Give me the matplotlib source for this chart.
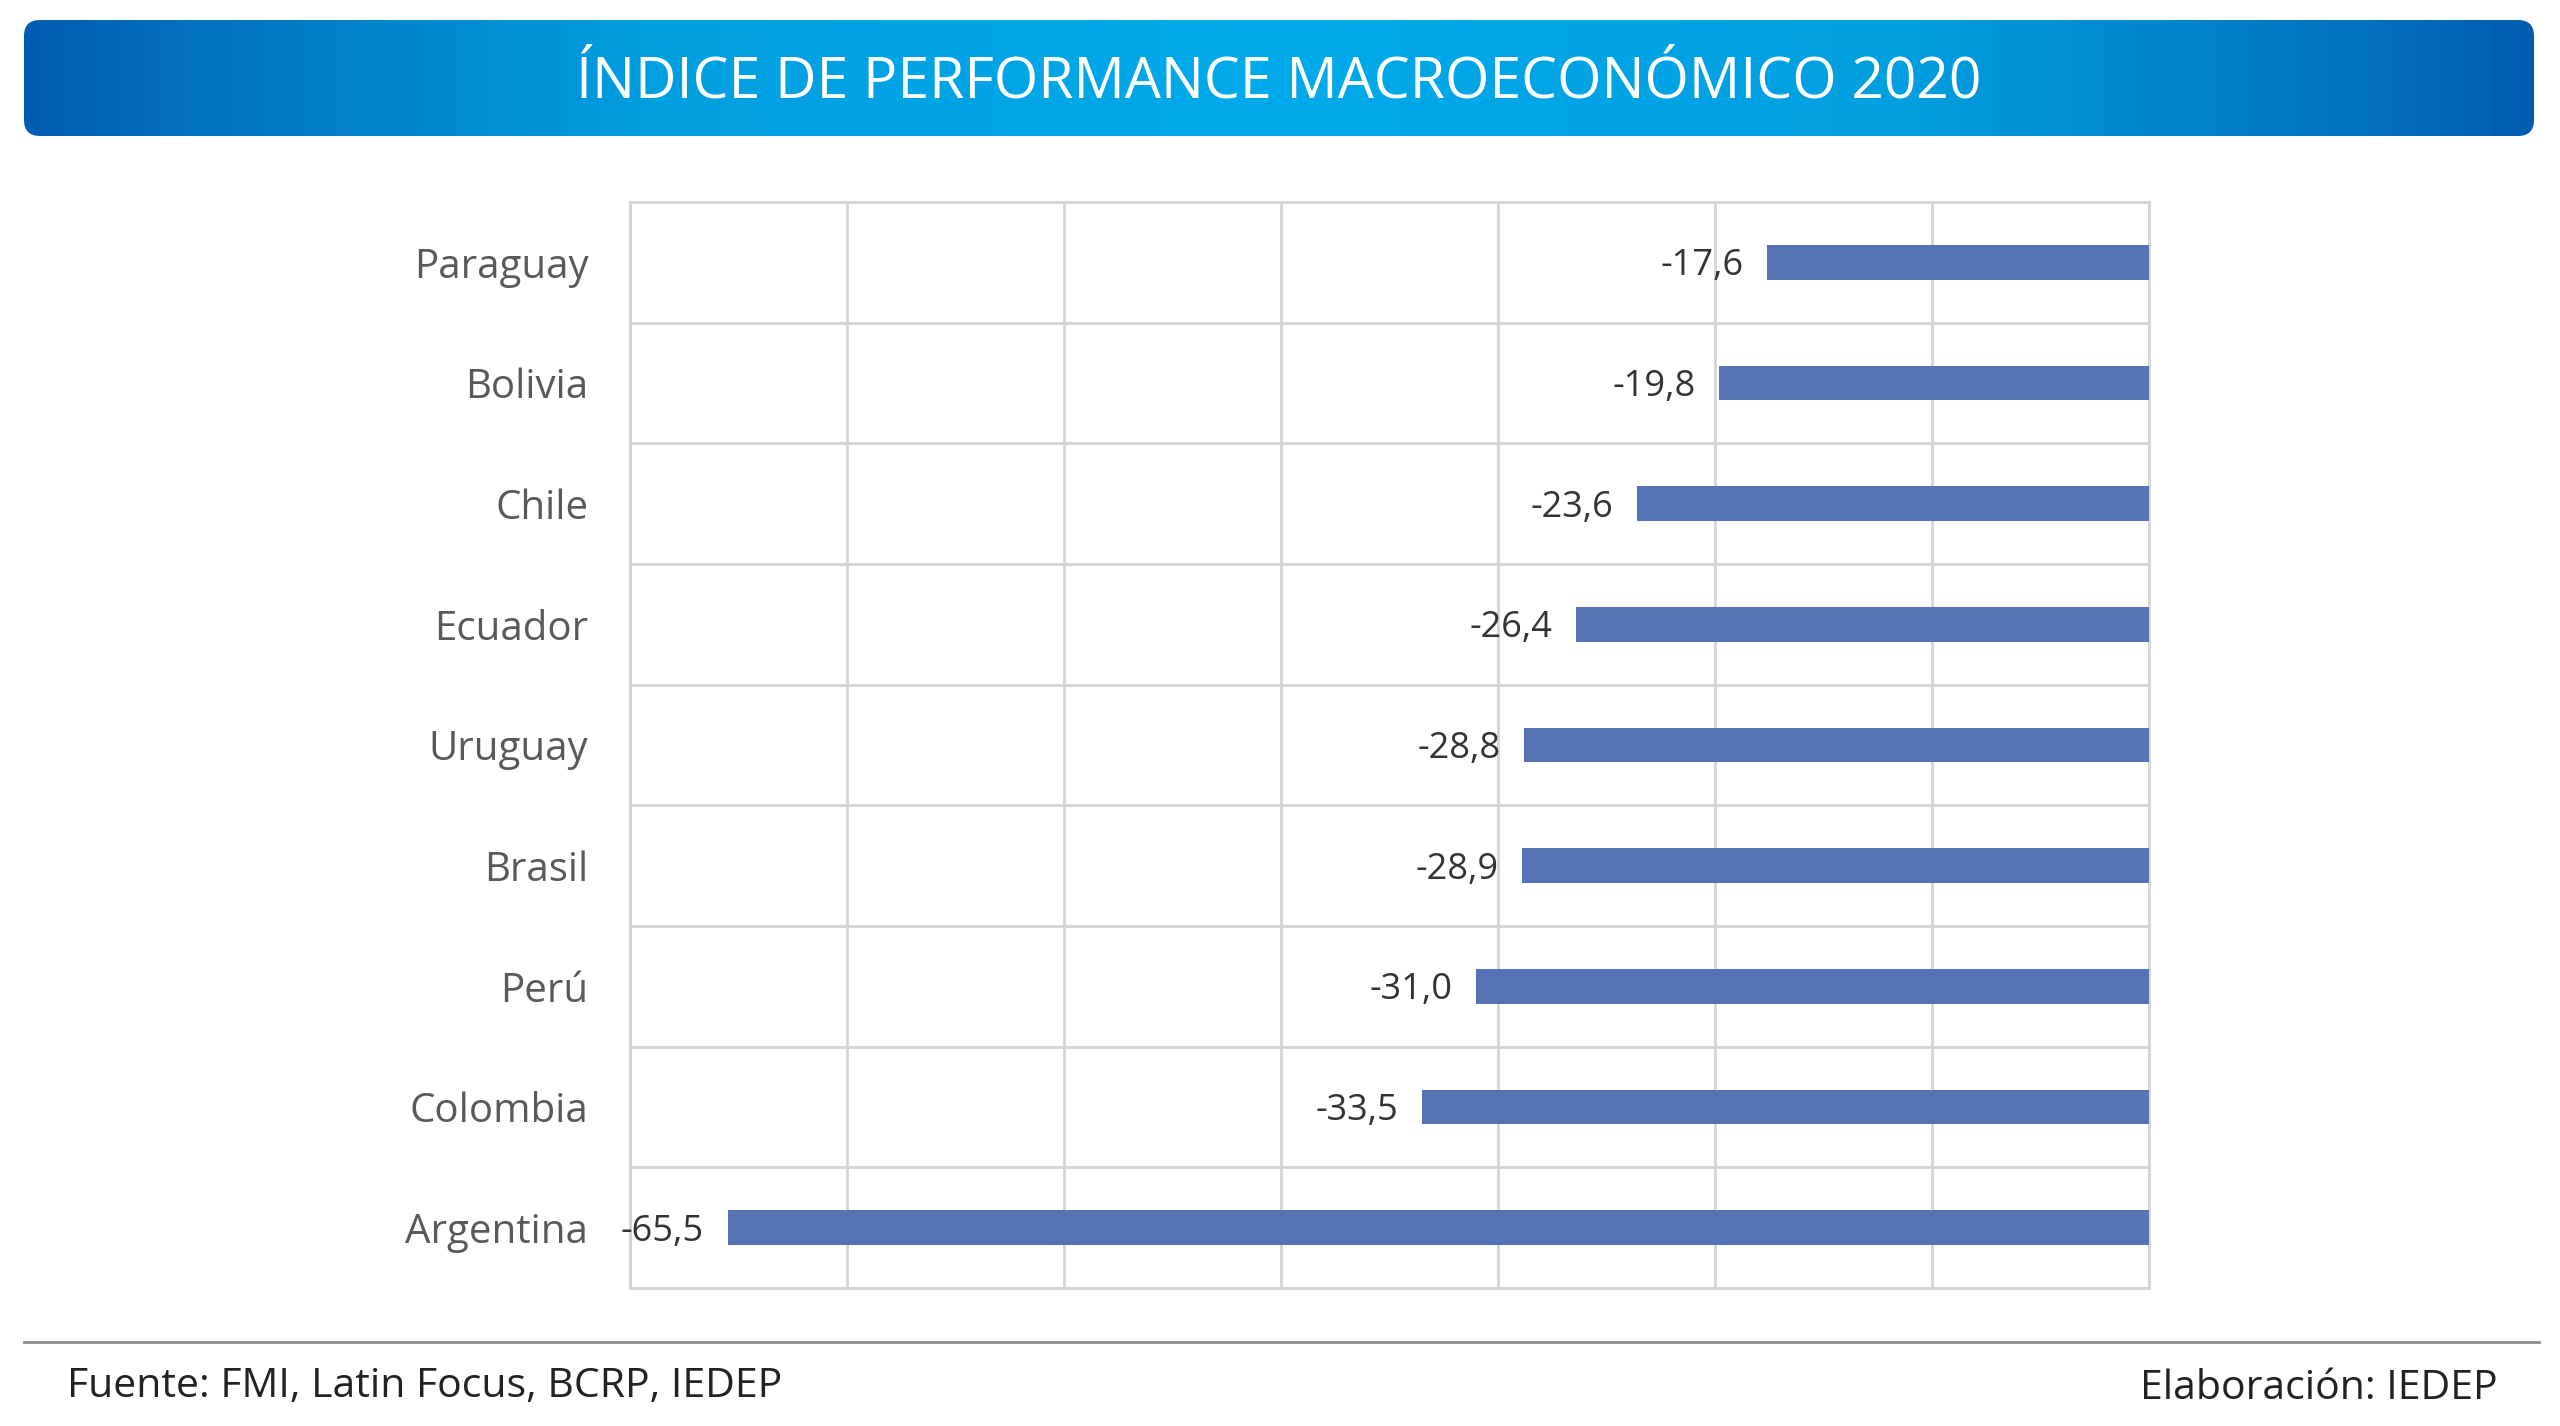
import numpy as np
import matplotlib
matplotlib.use("Agg")
import matplotlib.pyplot as plt
from matplotlib.colors import LinearSegmentedColormap
from matplotlib.patches import FancyBboxPatch

# ---- data ----
countries = ["Paraguay", "Bolivia", "Chile", "Ecuador", "Uruguay", "Brasil", "Perú", "Colombia", "Argentina"]
values = [-17.6, -19.8, -23.6, -26.4, -28.8, -28.9, -31.0, -33.5, -65.5]
title = "ÍNDICE DE PERFORMANCE MACROECONÓMICO 2020"
source_text = "Fuente: FMI, Latin Focus, BCRP, IEDEP"
credit_text = "Elaboración: IEDEP"

plt.rcParams['font.family'] = ['Open Sans', 'DejaVu Sans']

W, H = 2560, 1426
fig = plt.figure(figsize=(W / 100, H / 100), dpi=100)
fig.patch.set_facecolor("white")

# ---- banner ----
bx0, by0, bx1, by1 = 24, 20, 2534, 136
bax = fig.add_axes([bx0 / W, 1 - by1 / H, (bx1 - bx0) / W, (by1 - by0) / H])
bw, bh = bx1 - bx0, by1 - by0
bax.set_xlim(0, bw)
bax.set_ylim(0, bh)
bax.axis("off")
cmap = LinearSegmentedColormap.from_list(
    "banner",
    [(0.0, "#005cb1"), (0.06, "#0470c0"), (0.25, "#009fe0"), (0.5, "#00aaea"),
     (0.75, "#009fe0"), (0.94, "#0470c0"), (1.0, "#005cb1")])
grad = np.linspace(0, 1, 512)[None, :]
im = bax.imshow(grad, cmap=cmap, extent=(0, bw, 0, bh), aspect="auto", interpolation="bilinear")
clip = FancyBboxPatch((0, 0), bw, bh, boxstyle="round,pad=0,rounding_size=16",
                      transform=bax.transData, facecolor="none", edgecolor="none")
bax.add_patch(clip)
im.set_clip_path(clip)
bax.text(bw / 2, bh / 2 - 5, title, color="white", fontsize=41, ha="center", va="center",
         fontweight="medium")

# ---- main chart ----
ax = fig.add_axes([630 / W, 1 - 1288 / H, (2149 - 630) / W, (1288 - 202) / H])
y = np.arange(len(countries))
ax.barh(y, values, height=0.29, color="#5572b5", zorder=3)
ax.set_xlim(-70, 0)
ax.set_ylim(len(countries) - 0.5, -0.5)
ax.set_xticks(np.arange(-70, 1, 10))
ax.set_xticklabels([])
ax.set_yticks(y)
ax.set_yticklabels(countries, fontsize=29, color="#595959")
ax.set_yticks(np.arange(-0.5, len(countries), 1), minor=True)
ax.tick_params(axis="both", which="both", length=0)
ax.tick_params(axis="y", pad=30)
ax.grid(True, axis="x", which="major", color="#d4d4d4", linewidth=2, zorder=0)
ax.grid(True, axis="y", which="minor", color="#d4d4d4", linewidth=2, zorder=0)
for s in ax.spines.values():
    s.set_color("#d4d4d4")
    s.set_linewidth(2)

for yi, v in zip(y, values):
    ax.annotate(f"{v:.1f}".replace(".", ","), xy=(v, yi), xytext=(-17, -3),
                textcoords="offset points", ha="right", va="center",
                fontsize=26, color="#333333", zorder=4)

# ---- footer ----
fig.add_artist(plt.Line2D([24 / W, 2539 / W], [1 - 1342 / H, 1 - 1342 / H],
                          color="#8c8c8c", linewidth=2))
fig.text(67 / W, 1 - 1387 / H, source_text, fontsize=29.5, color="#222222", ha="left", va="center")
fig.text(2498 / W, 1 - 1389 / H, credit_text, fontsize=29.5, color="#222222", ha="right", va="center")

fig.savefig("out.png", dpi=100, facecolor="white")
